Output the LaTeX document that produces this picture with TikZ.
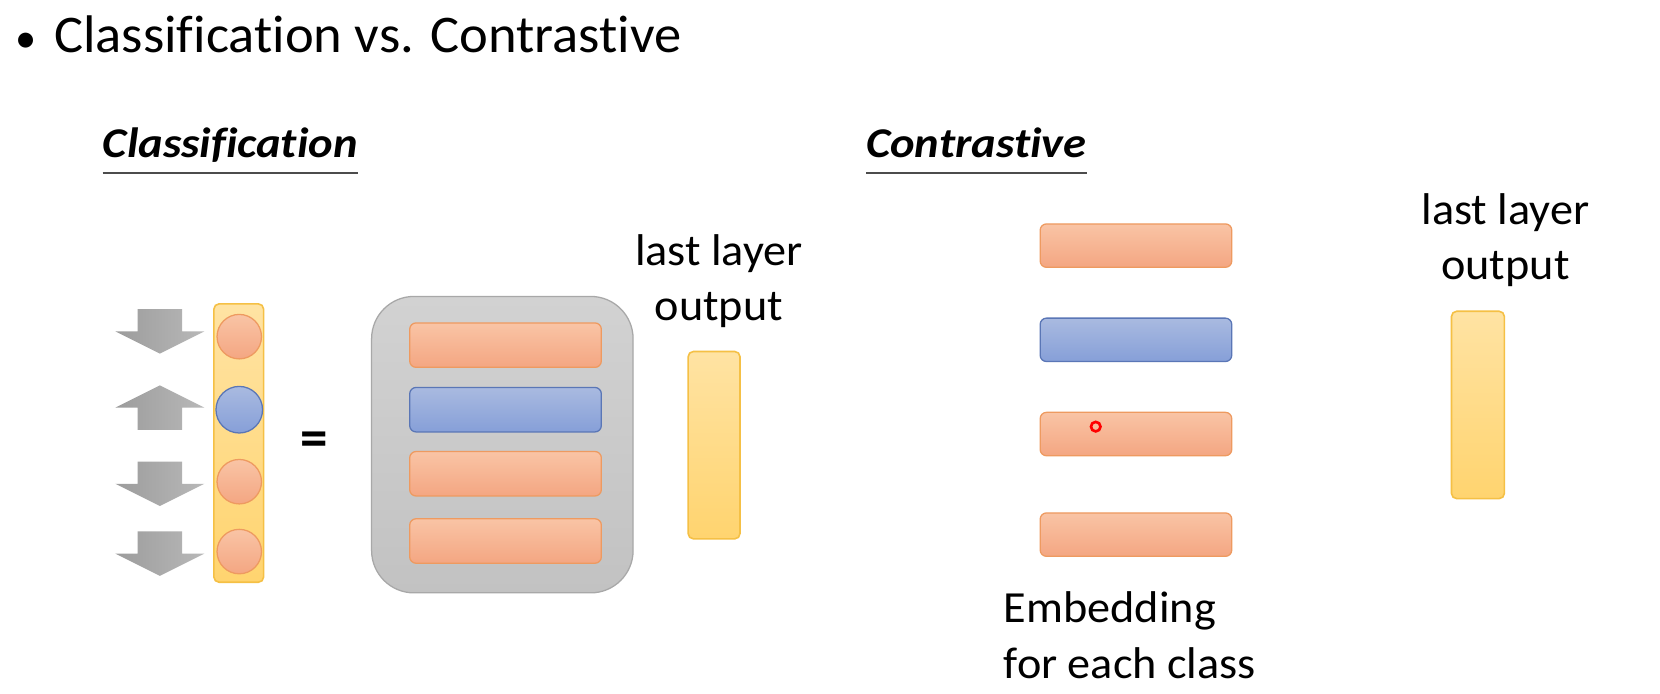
\documentclass[tikz,border=0pt]{standalone}
\usepackage{fontspec}
\setmainfont{Carlito}[Ligatures=CommonOff]
\definecolor{orfillT}{HTML}{F9C4A5}
\definecolor{orfillB}{HTML}{F4A682}
\definecolor{ordraw}{HTML}{EE9A60}
\definecolor{blfillT}{HTML}{A9BAE0}
\definecolor{blfillB}{HTML}{869FD8}
\definecolor{bldraw}{HTML}{5A76B6}
\definecolor{yefillT}{HTML}{FFE3A3}
\definecolor{yefillB}{HTML}{FFD46F}
\definecolor{yedraw}{HTML}{F5C045}
\definecolor{grfillT}{HTML}{D2D2D2}
\definecolor{grfillB}{HTML}{C2C2C2}
\definecolor{grdraw}{HTML}{A8A8A8}
\definecolor{arrL}{HTML}{9C9C9C}
\definecolor{arrR}{HTML}{B8B8B8}
\tikzset{
  orbar/.style={rectangle, rounded corners=6pt, draw=ordraw, line width=1.2pt, top color=orfillT, bottom color=orfillB, inner sep=0pt, minimum width=181pt, minimum height=42pt},
  blbar/.style={orbar, draw=bldraw, top color=blfillT, bottom color=blfillB},
  yebar/.style={rectangle, rounded corners=5pt, draw=yedraw, line width=1.5pt, top color=yefillT, bottom color=yefillB, inner sep=0pt},
  orcirc/.style={circle, draw=ordraw, line width=1.2pt, top color=orfillT, bottom color=orfillB, inner sep=0pt, minimum size=42pt},
  blcirc/.style={orcirc, draw=bldraw, top color=blfillT, bottom color=blfillB, minimum size=44pt},
  grbox/.style={rectangle, rounded corners=40pt, draw=grdraw, line width=1.2pt, top color=grfillT, bottom color=grfillB, inner sep=0pt},
  txt/.style={font=\fontsize{42pt}{52pt}\selectfont, inner sep=0pt, xscale=1.04, transform shape},
  head/.style={font=\fontsize{40pt}{46pt}\selectfont\bfseries\itshape, inner sep=0pt, xscale=1.1, transform shape},
  downarr/.pic={\shade[left color=arrL, right color=arrR] (-21,-21) -- (21,-21) -- (21,0) -- (42,0) -- (0,21) -- (-42,0) -- (-21,0) -- cycle;},
  uparr/.pic={\shade[left color=arrL, right color=arrR] (-21,21) -- (21,21) -- (21,0) -- (42,0) -- (0,-21) -- (-42,0) -- (-21,0) -- cycle;}
}
\begin{document}
\begin{tikzpicture}[x=1pt,y=-1pt]
\useasboundingbox[fill=white] (0,0) rectangle (1568,655);
% title
\node[anchor=base, inner sep=0pt, font=\fontsize{40pt}{48pt}\selectfont] (bul) at (25,50) {\textbullet};
\node[anchor=base west, inner sep=0pt, font=\fontsize{50pt}{58pt}\selectfont, xscale=1.03, transform shape] (title) at (51,50) {Classification vs. Contrastive};
% headings
\node[head, anchor=base west] (h1) at (97,149) {Classification};
\draw[line width=2pt, black!70] ([yshift=-14pt]h1.base west) -- ([yshift=-14pt]h1.base east);
\node[head, anchor=base west] (h2) at (818,149) {Contrastive};
\draw[line width=2pt, black!70] ([yshift=-14pt]h2.base west) -- ([yshift=-14pt]h2.base east);
% classification side
\pic at (151,313) {downarr};
\pic at (151,385) {uparr};
\pic at (151,457) {downarr};
\pic at (151,523) {downarr};
\node[yebar, minimum width=47pt, minimum height=263pt] (yv) at (225.5,418.5) {};
\node[orcirc] (c1) at (226,318) {};
\node[blcirc] (c2) at (226,387) {};
\node[orcirc] (c3) at (226,455) {};
\node[orcirc] (c4) at (226,521) {};
\node[inner sep=0pt, font=\fontsize{52pt}{60pt}\selectfont\bfseries] (eq) at (297,420) {=};
\node[grbox, minimum width=247pt, minimum height=280pt] (W) at (474.5,420) {};
\node[orbar] (w1) at (477.5,326) {};
\node[blbar] (w2) at (477.5,387) {};
\node[orbar] (w3) at (477.5,447.5) {};
\node[orbar] (w4) at (477.5,511) {};
\node[yebar, minimum width=49pt, minimum height=177pt] (out1) at (674.5,420.5) {};
\node[txt, align=center] (lbl1) at (679,266) {last layer\\output};
% contrastive side
\node[orbar, minimum height=41pt] (e1) at (1073,232) {};
\node[blbar, minimum height=41pt] (e2) at (1073,321) {};
\node[orbar, minimum height=41pt] (e3) at (1073,410) {};
\node[orbar, minimum height=41pt] (e4) at (1073,505) {};
\node[circle, draw=red, line width=2.5pt, minimum size=9pt, inner sep=0pt] (ptr) at (1035,403) {};
\node[txt, align=left, anchor=west] (emb) at (948,600) {Embedding\\for each class};
\node[yebar, minimum width=50pt, minimum height=177pt] (out2) at (1396,382.5) {};
\node[txt, align=center] (lbl2) at (1422,226.5) {last layer\\output};
\end{tikzpicture}
\end{document}
